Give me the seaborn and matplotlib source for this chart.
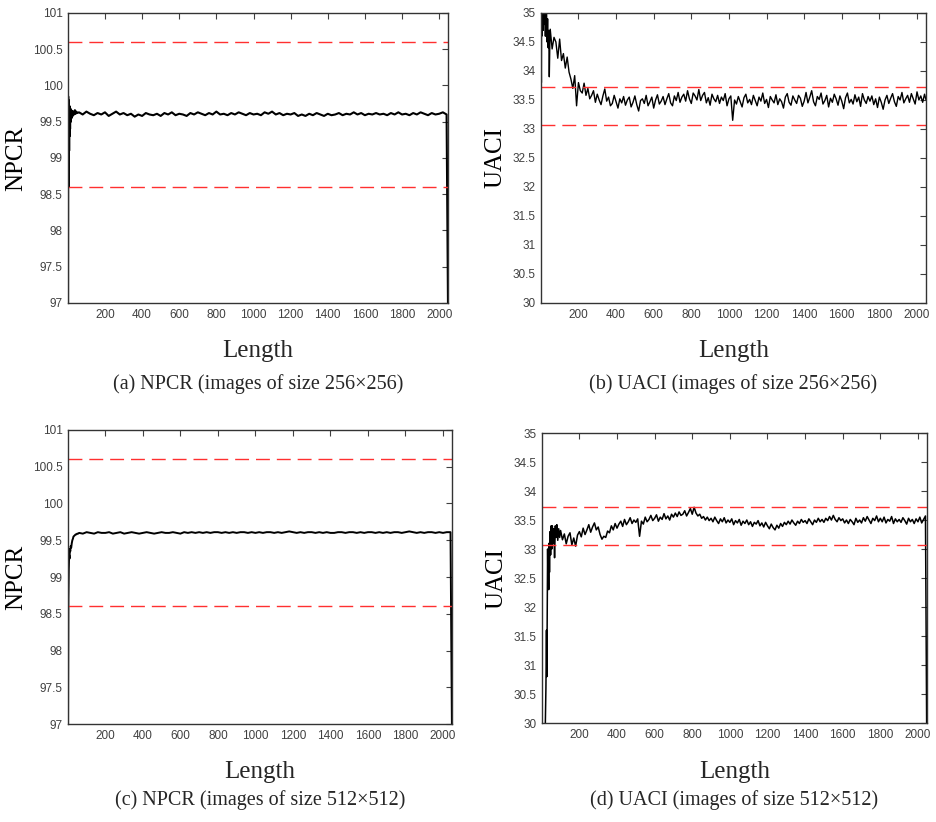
import numpy as np
import pandas as pd
import matplotlib
matplotlib.use("Agg")
import matplotlib.pyplot as plt
import seaborn as sns

# ---- data ----
x_len = [200, 400, 600, 800, 1000, 1200, 1400, 1600, 1800, 2000]

# (a) NPCR 256x256
a_x_start = [1, 2, 3, 4, 5, 6, 7, 8, 9, 10, 12, 14, 16, 18, 20, 23, 26, 30, 34, 38, 42, 46, 50]
a_y_start = [96.8, 99.85, 98.6, 99.8, 98.9, 99.75, 99.1, 99.72, 99.3, 99.7, 99.4, 99.68,
             99.5, 99.66, 99.55, 99.65, 99.58, 99.64, 99.6, 99.66, 99.61, 99.64, 99.62]
a_y_body = [99.63, 99.60, 99.64, 99.61, 99.59, 99.62, 99.60, 99.63, 99.58, 99.61,
            99.64, 99.60, 99.62, 99.59, 99.61, 99.57, 99.60, 99.58, 99.62, 99.60,
            99.59, 99.61, 99.58, 99.62, 99.60, 99.63, 99.59, 99.61, 99.60, 99.58,
            99.62, 99.60, 99.63, 99.61, 99.59, 99.62, 99.60, 99.64, 99.60, 99.61,
            99.59, 99.62, 99.60, 99.63, 99.61, 99.59, 99.62, 99.60, 99.61, 99.59,
            99.63, 99.61, 99.64, 99.60, 99.62, 99.59, 99.61, 99.60, 99.62, 99.58,
            99.60, 99.58, 99.61, 99.59, 99.62, 99.60, 99.58, 99.61, 99.59, 99.60,
            99.62, 99.59, 99.61, 99.60, 99.63, 99.60, 99.62, 99.59, 99.61, 99.60,
            99.62, 99.60, 99.61, 99.59, 99.62, 99.60, 99.63, 99.60, 99.61, 99.59,
            99.62, 99.60, 99.63, 99.61, 99.59, 99.62, 99.60, 99.61, 99.63, 99.60]
a_y_end = [96.8]

# (b) UACI 256x256
b_x_start = [1, 2, 3, 4, 5, 6, 8, 10, 12, 14, 16, 18, 20, 22, 24, 26, 28, 30, 33, 36, 39, 42, 45, 48]
b_y_start = [30.0, 34.2, 33.8, 35.3, 34.6, 35.4, 34.9, 35.5, 34.7, 35.2, 34.8, 35.6,
             34.9, 35.1, 34.6, 35.3, 34.7, 35.0, 34.5, 34.9, 34.4, 34.7, 33.9, 34.5]
b_y_body = [34.72, 34.38, 34.58, 34.50, 34.22, 34.55, 34.18, 34.30, 34.05, 34.24,
            33.98, 33.86, 33.70, 33.92, 33.40, 33.80, 33.66, 33.62, 33.79, 33.58,
            33.70, 33.52, 33.58, 33.66, 33.46, 33.60, 33.50, 33.42, 33.57, 33.69,
            33.48, 33.55, 33.40, 33.44, 33.58, 33.47, 33.36, 33.52, 33.45, 33.56,
            33.41, 33.50, 33.55, 33.38, 33.46, 33.57, 33.42, 33.31, 33.49, 33.52,
            33.44, 33.58, 33.40, 33.47, 33.55, 33.36, 33.50, 33.59, 33.43, 33.48,
            33.56, 33.42, 33.52, 33.61, 33.45, 33.40, 33.57, 33.49, 33.63, 33.46,
            33.55, 33.60, 33.48, 33.66, 33.52, 33.44, 33.62, 33.57, 33.50, 33.68,
            33.49, 33.58, 33.63, 33.45, 33.54, 33.41, 33.60, 33.52, 33.47, 33.58,
            33.44, 33.55, 33.49, 33.61, 33.40, 33.52, 33.57, 33.15, 33.50, 33.43,
            33.56, 33.47, 33.38, 33.54, 33.60, 33.45, 33.51, 33.42, 33.58, 33.49,
            33.40, 33.55, 33.48, 33.62, 33.44, 33.51, 33.37, 33.56, 33.50, 33.45,
            33.59, 33.42, 33.52, 33.47, 33.36, 33.55, 33.61, 33.46, 33.41, 33.57,
            33.50, 33.44, 33.58, 33.53, 33.39, 33.48, 33.63, 33.45, 33.55, 33.66,
            33.47, 33.40, 33.56, 33.51, 33.62, 33.43, 33.49, 33.58, 33.38, 33.53,
            33.46, 33.60, 33.52, 33.41, 33.57, 33.48, 33.35, 33.54, 33.62, 33.45,
            33.51, 33.43, 33.59, 33.47, 33.55, 33.39, 33.61, 33.50, 33.44, 33.56,
            33.48, 33.57, 33.42, 33.52, 33.37, 33.55, 33.46, 33.34, 33.50, 33.58,
            33.44, 33.53, 33.61, 33.47, 33.39, 33.56, 33.50, 33.63, 33.45, 33.52,
            33.58, 33.46, 33.61, 33.52, 33.43, 33.64, 33.50, 33.57, 33.46, 33.60]
b_y_end = [33.50]

# (c) NPCR 512x512
c_x_start = [1, 3, 5, 7, 9, 11, 13, 15, 18, 21, 24, 27, 30, 34, 38, 42, 46, 50, 55]
c_y_start = [96.8, 98.7, 99.1, 99.3, 99.25, 99.38, 99.35, 99.42, 99.40, 99.46, 99.50,
             99.52, 99.55, 99.56, 99.57, 99.58, 99.58, 99.59, 99.59]
c_y_body = [99.60, 99.59, 99.61, 99.60, 99.59, 99.61, 99.60, 99.60, 99.61, 99.59,
            99.60, 99.61, 99.59, 99.60, 99.61, 99.60, 99.59, 99.60, 99.61, 99.60,
            99.59, 99.60, 99.61, 99.60, 99.60, 99.61, 99.60, 99.59, 99.61, 99.60,
            99.61, 99.60, 99.61, 99.60, 99.61, 99.60, 99.61, 99.61, 99.60, 99.61,
            99.60, 99.61, 99.60, 99.61, 99.61, 99.60, 99.61, 99.60, 99.61, 99.60,
            99.61, 99.61, 99.60, 99.61, 99.60, 99.61, 99.62, 99.61, 99.60, 99.61,
            99.60, 99.61, 99.61, 99.60, 99.61, 99.60, 99.61, 99.60, 99.60, 99.61,
            99.61, 99.60, 99.61, 99.61, 99.60, 99.61, 99.60, 99.61, 99.61, 99.60,
            99.61, 99.60, 99.61, 99.60, 99.61, 99.61, 99.60, 99.61, 99.62, 99.61,
            99.60, 99.61, 99.60, 99.61, 99.61, 99.60, 99.61, 99.60, 99.61, 99.61]
c_y_end = [96.8]

# (d) UACI 512x512
d_x_start = [1, 5, 10, 15, 18, 22, 25, 27, 29, 31, 33, 35, 37, 39, 41, 44, 47, 50, 53,
             56, 60, 64, 68, 72, 76, 80, 85, 90, 95]
d_y_start = [25.0, 27.0, 28.5, 29.5, 29.8, 30.6, 31.6, 30.8, 31.8, 33.0, 32.4, 32.9,
             32.3, 33.1, 32.6, 33.3, 32.9, 33.4, 33.0, 33.4, 33.1, 33.35, 32.85, 33.4,
             33.2, 33.42, 33.15, 33.35, 33.2]
d_y_body = [33.32, 33.16, 33.26, 33.09, 33.22, 33.28, 33.07, 33.19, 33.05, 33.24,
            33.30, 33.21, 33.36, 33.25, 33.33, 33.42, 33.29, 33.38, 33.45, 33.33,
            33.38, 33.25, 33.17, 33.22, 33.20, 33.31, 33.28, 33.40, 33.33, 33.44,
            33.36, 33.43, 33.48, 33.39, 33.51, 33.42, 33.47, 33.54, 33.44, 33.50,
            33.46, 33.52, 33.22, 33.48, 33.43, 33.55, 33.47, 33.51, 33.58, 33.49,
            33.53, 33.59, 33.48, 33.55, 33.51, 33.61, 33.52, 33.57, 33.50, 33.60,
            33.55, 33.62, 33.56, 33.64, 33.58, 33.60, 33.66, 33.57, 33.63, 33.70,
            33.60, 33.72, 33.62, 33.57, 33.60, 33.53, 33.56, 33.50, 33.55, 33.49,
            33.53, 33.47, 33.55, 33.49, 33.44, 33.52, 33.47, 33.54, 33.45, 33.50,
            33.46, 33.52, 33.42, 33.49, 33.45, 33.51, 33.41, 33.48, 33.44, 33.50,
            33.42, 33.47, 33.39, 33.46, 33.43, 33.49, 33.40, 33.45, 33.38, 33.46,
            33.40, 33.35, 33.43, 33.37, 33.33, 33.41, 33.36, 33.44, 33.39, 33.46,
            33.42, 33.48, 33.43, 33.50, 33.45, 33.41, 33.48, 33.44, 33.51, 33.46,
            33.49, 33.44, 33.52, 33.47, 33.42, 33.50, 33.46, 33.53, 33.47, 33.51,
            33.46, 33.53, 33.49, 33.56, 33.50, 33.58, 33.51, 33.47, 33.54, 33.49,
            33.52, 33.45, 33.50, 33.44, 33.51, 33.47, 33.42, 33.53, 33.46, 33.50,
            33.45, 33.54, 33.48, 33.56, 33.50, 33.44, 33.53, 33.49, 33.57, 33.47,
            33.53, 33.47, 33.55, 33.45, 33.51, 33.48, 33.56, 33.44, 33.52, 33.47,
            33.51, 33.46, 33.54, 33.49, 33.43, 33.53, 33.47, 33.51, 33.44, 33.52,
            33.47, 33.55, 33.45, 33.51, 33.57]
d_y_end = [29.0]

npcr_bounds = [100.6, 98.6]
uaci_bounds = [33.73, 33.07]

captions = ["(a) NPCR (images of size 256×256)",
            "(b) UACI (images of size 256×256)",
            "(c) NPCR (images of size 512×512)",
            "(d) UACI (images of size 512×512)"]


def build(x_start, y_start, body_from, step, y_body, y_end):
    x_body = list(np.arange(body_from, body_from + step * len(y_body), step))
    xs = list(x_start) + x_body + [2048] * len(y_end)
    ys = list(y_start) + list(y_body) + list(y_end)
    return pd.DataFrame({"Length": xs, "value": ys})


df_a = build(a_x_start, a_y_start, 60, 20, a_y_body, a_y_end)
df_b = build(b_x_start, b_y_start, 50, 10, b_y_body, b_y_end)
df_c = build(c_x_start, c_y_start, 60, 20, c_y_body, c_y_end)
df_d = build(d_x_start, d_y_start, 100, 10, d_y_body, d_y_end)

sns.set_theme(style="white")
plt.rcParams['font.family'] = ['Liberation Sans', 'DejaVu Sans']

fig = plt.figure(figsize=(9.37, 8.22), dpi=100)
axes_pos = [[0.0726, 0.6314, 0.4056, 0.3528],
            [0.5774, 0.6314, 0.4109, 0.3528],
            [0.0726, 0.1192, 0.4098, 0.3577],
            [0.5784, 0.1204, 0.4109, 0.3528]]
panels = [(df_a, "NPCR", npcr_bounds, (97, 101), 1.5),
          (df_b, "UACI", uaci_bounds, (30, 35), 1.0),
          (df_c, "NPCR", npcr_bounds, (97, 101), 1.4),
          (df_d, "UACI", uaci_bounds, (30, 35), 1.1)]

serif = ['Liberation Serif', 'DejaVu Serif']

for i, (df, name, bounds, ylim, lw) in enumerate(panels):
    ax = fig.add_axes(axes_pos[i])
    sns.lineplot(data=df, x="Length", y="value", ax=ax, color="black",
                 linewidth=lw, estimator=None, sort=False)
    for b in bounds:
        ax.axhline(b, color="#ff3030", linewidth=1.0, linestyle=(0, (10, 5)))
    ax.set_xlim(1, 2048)
    ax.set_ylim(*ylim)
    ax.set_xticks(x_len)
    yt = np.arange(ylim[0], ylim[1] + 0.01, 0.5)
    ax.set_yticks(yt)
    ax.set_yticklabels([("%g" % v) for v in yt])
    ax.tick_params(direction="in", length=4, width=0.8, colors="#404040",
                   labelsize=8.5, top=True, right=True, pad=4)
    for sp in ax.spines.values():
        sp.set_color("#333333")
        sp.set_linewidth(1.0)
    ax.set_xlabel("")
    ax.set_ylabel(name, family=serif, fontsize=18, color="black", labelpad=4)

    # "Length" and caption under each panel
    p = axes_pos[i]
    cx = p[0] + p[2] / 2
    top_row = i < 2
    fig.text(cx, (822 - (351 if top_row else 772)) / 822, "Length",
             family=serif, fontsize=18, ha="center", va="center")
    fig.text(cx, (822 - (384 if top_row else 800)) / 822, captions[i],
             family=serif, fontsize=14.5, ha="center", va="center")

plt.savefig("out.png", dpi=100)
